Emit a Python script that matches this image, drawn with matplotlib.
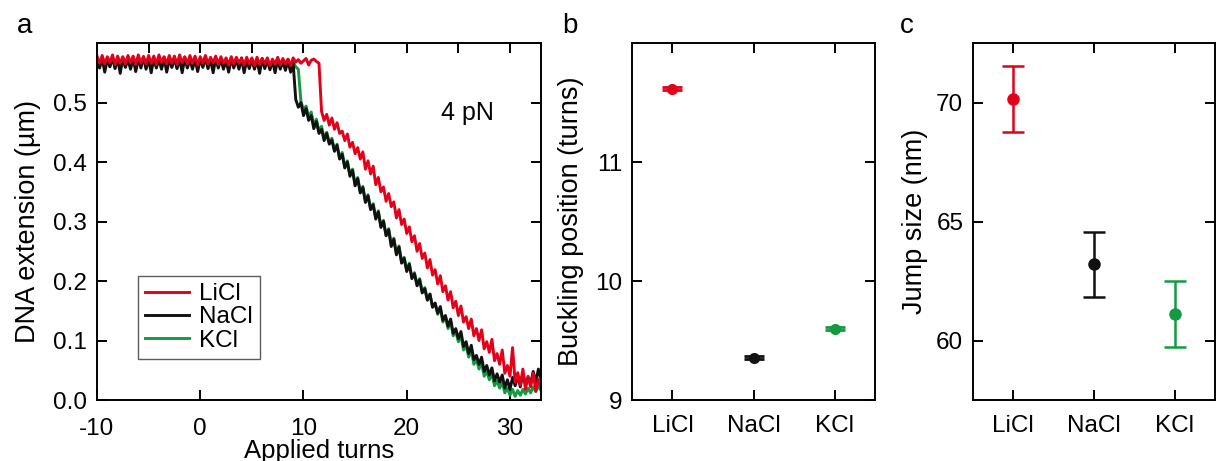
import numpy as np
import matplotlib
matplotlib.use("Agg")
import matplotlib.pyplot as plt

plt.rcParams['font.family'] = ['Liberation Sans', 'DejaVu Sans']
plt.rcParams['axes.unicode_minus'] = False

# extension traces in nm, sampled every 0.25 turn from -10 to 33
licl_nm = [
    578, 566, 579, 565, 577, 567, 580, 564, 578, 566, 577, 565, 579, 567, 578, 564, 580, 566, 577, 565,
    579, 566, 578, 564, 580, 567, 577, 565, 579, 566, 578, 564, 580, 567, 577, 565, 579, 566, 578, 563,
    577, 566, 579, 565, 576, 567, 578, 564, 577, 566, 575, 563, 577, 565, 576, 566, 574, 563, 576, 565,
    575, 562, 576, 564, 574, 565, 575, 562, 573, 564, 576, 563, 574, 565, 573, 562, 575,
    568, 572, 566, 570, 574, 563, 571, 573, 569, 566,
    485,
    470, 480, 462, 474, 455, 466, 448, 452, 436, 447, 425, 433, 414, 424, 405, 417,
    388, 402, 380, 393, 362, 374, 350, 358, 334, 347, 325, 333, 306, 320, 295, 304,
    280, 291, 266, 276, 250, 263, 238, 247, 222, 236, 210, 219, 195, 209, 182, 192,
    168, 182, 155, 166, 142, 158, 131, 140, 120, 136, 108, 120, 100, 118, 86, 98,
    80, 102, 66, 78, 60, 84, 45, 58, 40, 88, 30, 46, 25, 52, 18, 40,
    22, 45, 15, 35, 20,
]
nacl_nm = [
    574, 558, 575, 551, 573, 560, 576, 557, 574, 549, 575, 559, 573, 556, 576, 552, 574, 558, 577, 556,
    573, 550, 575, 558, 574, 556, 576, 551, 573, 559, 575, 557, 574, 550, 576, 558, 573, 556, 575, 552,
    574, 559, 576, 557, 573, 550, 575, 558, 574, 556, 572, 551, 574, 558, 573, 556, 575, 550, 572, 557,
    573, 556, 571, 549, 574, 557, 572, 555, 571, 550, 573, 556, 570, 554, 572, 551, 566,
    505, 492, 500,
    478, 490, 470, 478, 456, 468, 448, 455, 436, 448, 430, 437, 418, 428, 405, 413,
    390, 400, 376, 386, 360, 372, 348, 357, 332, 343, 320, 328, 304, 316, 290, 300,
    276, 286, 258, 270, 244, 257, 230, 238, 216, 228, 204, 212, 192, 202, 180, 187,
    168, 178, 156, 163, 146, 157, 134, 142, 124, 136, 112, 120, 103, 115, 90, 98,
    78, 92, 68, 75, 60, 72, 48, 58, 42, 54, 32, 44, 30, 42, 20, 34,
    18, 38, 24, 40, 22, 45, 26, 38, 28, 48, 30, 52, 36,
]
kcl_nm = [
    572, 560, 574, 556, 572, 561, 575, 558, 573, 557, 574, 560, 572, 558, 575, 556, 573, 560, 575, 558,
    572, 556, 574, 560, 573, 558, 575, 556, 572, 560, 574, 558, 573, 555, 575, 560, 572, 558, 574, 556,
    573, 560, 575, 558, 572, 556, 574, 560, 573, 558, 571, 556, 573, 560, 572, 558, 574, 555, 571, 559,
    572, 558, 570, 555, 573, 559, 571, 557, 570, 556, 572, 558, 569, 556, 571, 554, 568, 560, 556,
    502,
    488, 494, 476, 484, 462, 472, 452, 460, 440, 450, 432, 440, 420, 430, 407, 416,
    392, 402, 379, 388, 362, 374, 350, 359, 334, 345, 322, 330, 306, 318, 292, 302,
    277, 288, 262, 272, 247, 259, 233, 240, 218, 230, 206, 214, 194, 204, 182, 189,
    168, 178, 156, 162, 144, 155, 131, 139, 120, 132, 108, 115, 98, 108, 84, 92,
    72, 84, 60, 68, 52, 62, 40, 48, 34, 44, 24, 32, 20, 30, 12, 20,
    8, 18, 6, 16, 8, 18, 10, 20, 12, 22, 14, 24, 16,
]

salts = ['LiCl', 'NaCl', 'KCl']
buckling = [11.615, 9.355, 9.60]
buckling_err = [0.012, 0.012, 0.012]
jump = [70.13, 63.2, 61.12]
jump_err = [1.39, 1.38, 1.38]

red = '#e2001a'
black = '#111111'
green = '#139a43'
colors = [red, black, green]

turns = np.linspace(-10, 33, len(licl_nm))

TICK = 17.5
LAB = 19.5

fig = plt.figure(figsize=(12.17, 4.61), dpi=100)
ax_a = fig.add_axes([0.0797, 0.1323, 0.3648, 0.7744])
ax_b = fig.add_axes([0.5193, 0.1323, 0.1997, 0.7744])
ax_c = fig.add_axes([0.7995, 0.1323, 0.1989, 0.7744])

for ax in (ax_a, ax_b, ax_c):
    for s in ax.spines.values():
        s.set_linewidth(1.4)
    ax.tick_params(direction='in', length=7, width=1.4, labelsize=TICK,
                   top=True, right=True, pad=7)
    ax.tick_params(axis='x', pad=11)

# panel a
ax_a.plot(turns, np.array(kcl_nm) / 1000, color=green, lw=2.1, label='KCl')
ax_a.plot(turns, np.array(nacl_nm) / 1000, color=black, lw=2.1, label='NaCl')
ax_a.plot(turns, np.array(licl_nm) / 1000, color=red, lw=2.1, label='LiCl')
ax_a.set_xlim(-10, 33)
ax_a.set_ylim(0, 0.6)
ax_a.set_xticks([-10, 0, 10, 20, 30])
ax_a.set_xticks([-5, 5, 15, 25], minor=True)
ax_a.set_yticks([0, 0.1, 0.2, 0.3, 0.4, 0.5])
ax_a.yaxis.set_major_formatter(matplotlib.ticker.FormatStrFormatter('%.1f'))
ax_a.tick_params(axis='x', pad=13)
ax_a.tick_params(which='minor', direction='in', length=7, width=1.4,
                 bottom=False, top=True)
ax_a.set_xlabel('Applied turns', fontsize=18.5, labelpad=-1)
ax_a.set_ylabel('DNA extension (µm)', fontsize=LAB, labelpad=9)
ax_a.text(23.3, 0.483, '4 pN', fontsize=18, ha='left', va='center')
h, l = ax_a.get_legend_handles_labels()
leg = ax_a.legend(h[::-1], l[::-1], loc='lower left', bbox_to_anchor=(0.092, 0.115),
                  borderaxespad=0, fontsize=TICK, frameon=True, fancybox=False,
                  edgecolor='#333333', handlelength=1.8, labelspacing=0.05,
                  handletextpad=0.4, borderpad=0.3)
leg.get_frame().set_linewidth(1.0)

# panel b
for i in range(3):
    ax_b.errorbar(i, buckling[i], yerr=buckling_err[i], fmt='o', color=colors[i],
                  ms=7, capsize=7, elinewidth=2, capthick=2)
ax_b.set_xlim(-0.5, 2.5)
ax_b.set_ylim(9, 12)
ax_b.set_xticks(range(3))
ax_b.set_xticklabels(salts)
ax_b.set_yticks([9, 10, 11])
ax_b.set_ylabel('Buckling position (turns)', fontsize=LAB, labelpad=8)

# panel c
for i in range(3):
    ax_c.errorbar(i, jump[i], yerr=jump_err[i], fmt='o', color=colors[i],
                  ms=8, capsize=8, elinewidth=1.8, capthick=1.8)
ax_c.set_xlim(-0.5, 2.5)
ax_c.set_ylim(57.5, 72.5)
ax_c.set_xticks(range(3))
ax_c.set_xticklabels(salts)
ax_c.set_yticks([60, 65, 70])
ax_c.set_ylabel('Jump size (nm)', fontsize=LAB, labelpad=6)

fig.text(17 / 1217, 1 - 33 / 461, 'a', fontsize=20, va='baseline')
fig.text(562 / 1217, 1 - 33 / 461, 'b', fontsize=20, va='baseline')
fig.text(900 / 1217, 1 - 33 / 461, 'c', fontsize=20, va='baseline')

fig.savefig('out.png', dpi=100)
